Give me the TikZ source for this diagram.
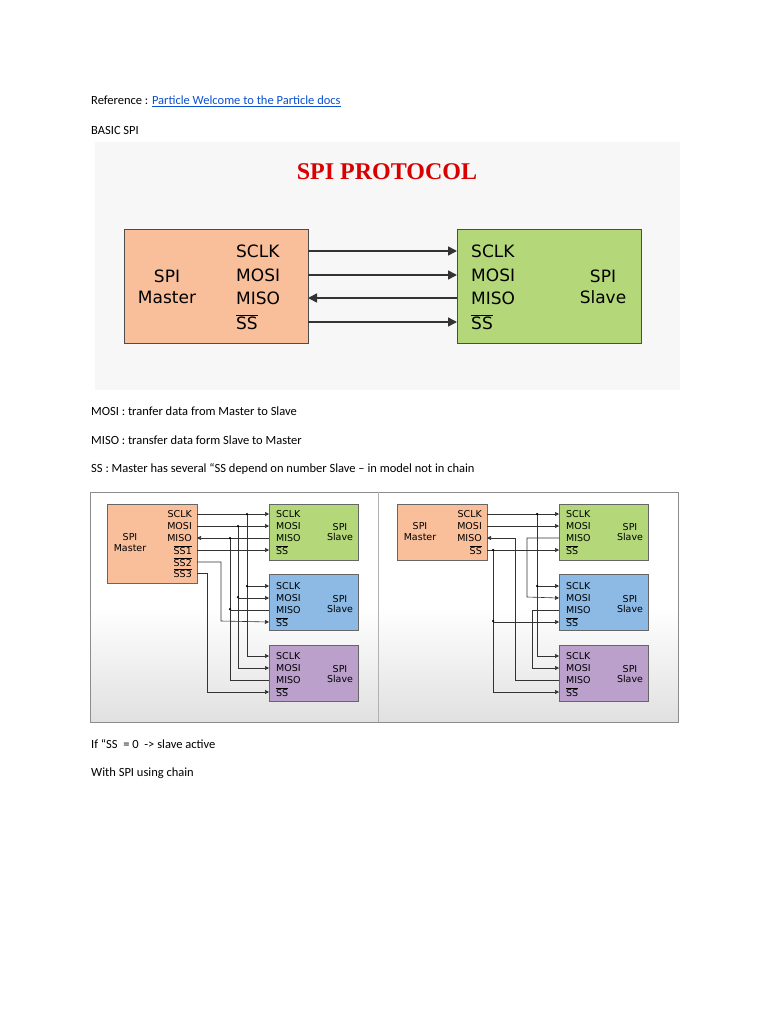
\documentclass[tikz,border=0pt]{standalone}
\usepackage{fontspec}
\setmainfont{Carlito}
\newfontfamily\dv{DejaVu Sans}
\newfontfamily\ser{Liberation Serif}
\usetikzlibrary{arrows.meta}
\newcommand\ovl[1]{$\overline{\hbox{#1}}$}
\definecolor{peach}{HTML}{F9BF9B}
\definecolor{lgreen}{HTML}{B4D77A}
\definecolor{lblue}{HTML}{8CBAE4}
\definecolor{lpurp}{HTML}{BBA0CC}
\definecolor{link}{HTML}{0B50D0}
\begin{document}
\begin{tikzpicture}[x=1pt,y=-1pt,
  txt/.style={anchor=west,inner sep=0pt,font=\fontsize{12.5}{14}\selectfont},
  big/.style={draw=black!70,line width=1pt,inner sep=0pt,anchor=north west},
  bl/.style={font=\dv\fontsize{17}{19}\selectfont,inner sep=0pt,anchor=west},
  sl/.style={font=\dv\fontsize{9.5}{10}\selectfont,inner sep=0pt,anchor=west},
  bw/.style={line width=1.6pt,black!80},
  sw/.style={line width=0.6pt,black!80},
  tip/.style={-{Triangle[length=4pt,width=4pt]}},
  btip/.style={-{Triangle[length=9pt,width=9pt]}},
  dot/.style={circle,fill=black,inner sep=0pt,minimum size=2.5pt}]
\useasboundingbox (0,0) rectangle (768,1024);
\fill[white] (0,0) rectangle (768,1024);
% texts
\node[txt] (r) at (91,101) {Reference : \textcolor{link}{\underbar{Particle Welcome to the Particle docs}}};
\node[txt] (b) at (91,130) {BASIC SPI};
\node[txt] (t1) at (91,411) {MOSI : tranfer data from Master to Slave};
\node[txt] (t2) at (91,440) {MISO : transfer data form Slave to Master};
\node[txt] (t3) at (91,469) {SS : Master has several “SS depend on number Slave – in model not in chain};
\node[txt] (t4) at (91,744) {If “SS \ = 0 \ -> slave active};
\node[txt] (t5) at (91,773) {With SPI using chain};
% top diagram
\fill[black!3] (95,142) rectangle (680,390);
\node[font=\ser\bfseries\fontsize{24}{26}\selectfont,text=red!85!black] (title) at (387,172) {SPI PROTOCOL};
\node[big,fill=peach,minimum width=184,minimum height=114] (M) at (124,229) {};
\node[big,fill=lgreen,minimum width=184,minimum height=114] (S) at (457,229) {};
\node[font=\dv\fontsize{17}{21}\selectfont,align=center] (ml) at (167,287) {SPI\\Master};
\node[font=\dv\fontsize{17}{21}\selectfont,align=center] (sl2) at (603,287) {SPI\\Slave};
\foreach \t/\y [count=\i] in {SCLK/251,MOSI/275,MISO/298,\ovl{SS}/322}{
  \node[bl] (ma\i) at (236,\y) {\t};
  \node[bl] (sa\i) at (471,\y) {\t};
  \coordinate (mp\i) at (308,\y); \coordinate (sp\i) at (457,\y);}
\draw[bw,btip] (mp1) -- (sp1);
\draw[bw,btip] (mp2) -- (sp2);
\draw[bw,btip] (sp3) -- (mp3);
\draw[bw,btip] (mp4) -- (sp4);
% bottom panels
\shade[top color=white,bottom color=black!12,middle color=white] (90,492) rectangle (678,722);
\draw[black!45,line width=0.8pt] (90,492) rectangle (678,722);
\draw[black!30,line width=0.8pt] (378,492) -- (378,722);
\tikzset{
 slv/.style={draw=black!60,inner sep=0pt,anchor=north west,minimum width=89,minimum height=56},
 mst/.style={draw=black!60,fill=peach,inner sep=0pt,anchor=north west,minimum width=90}}
\foreach \ox/\p in {0/L,290/R}{
 \begin{scope}[xshift=\ox]
 \node[slv,fill=lgreen] (\p s1) at (269,504) {};
 \node[slv,fill=lblue] (\p s2) at (269,574) {};
 \node[slv,fill=lpurp] (\p s3) at (269,645) {};
 \foreach \k/\yy in {1/514,2/586,3/656}{
  \foreach \t/\d [count=\i] in {SCLK/0,MOSI/12,MISO/24,\ovl{SS}/36}{
   \node[sl] (\p n\k\i) at (276,\yy+\d) {\t};
   \coordinate (\p c\k\i) at (269,\yy+\d);}
  \node[sl,align=center,anchor=center] (\p sl\k) at (340,\yy+18) {SPI\\Slave};}
 \end{scope}}
% left master
\node[mst,minimum height=79] (LM) at (107,504) {};
\node[font=\dv\fontsize{9.5}{11}\selectfont,align=center] (LMl) at (130,543) {SPI\\Master};
\foreach \t/\y [count=\i] in {SCLK/514,MOSI/526,MISO/538,\ovl{SS1}/550,\ovl{SS2}/562,\ovl{SS3}/573}{
 \node[sl,anchor=east] (Lm\i) at (192,\y) {\t};
 \coordinate (Lq\i) at (197,\y);}
\draw[sw,tip] (Lq1) -- (Lc11);
\draw[sw,tip] (Lq2) -- (Lc12);
\draw[sw,tip] (Lc13) -- (Lq3);
\draw[sw,tip] (Lq4) -- (Lc14);
\draw[sw,tip] (247,514) |- (Lc21); \draw[sw,tip] (247,514) |- (Lc31);
\draw[sw,tip] (238,526) |- (Lc22); \draw[sw,tip] (238,526) |- (Lc32);
\draw[sw] (230,538) |- (Lc23); \draw[sw] (230,538) |- (Lc33);
\draw[sw,tip] (Lq5) -| (221,621) -- (Lc24);
\draw[sw,tip] (Lq6) -| (207,692) -- (Lc34);
\foreach \pt in {(247,514),(238,526),(230,538),(247,586),(238,597),(230,609)} \node[dot] at \pt {};
% right master
\node[mst,minimum height=56] (RM) at (397,504) {};
\node[font=\dv\fontsize{9.5}{11}\selectfont,align=center] (RMl) at (420,532) {SPI\\Master};
\foreach \t/\y [count=\i] in {SCLK/514,MOSI/526,MISO/538,\ovl{SS}/550}{
 \node[sl,anchor=east] (Rm\i) at (482,\y) {\t};
 \coordinate (Rq\i) at (487,\y);}
\draw[sw,tip] (Rq1) -- (Rc11);
\draw[sw,tip] (Rq2) -- (Rc12);
\draw[sw,tip] (Rq4) -- (Rc14);
\draw[sw,tip] (537,514) |- (Rc21); \draw[sw,tip] (537,514) |- (Rc31);
\draw[sw,tip] (493,550) |- (Rc24); \draw[sw,tip] (493,550) |- (Rc34);
\draw[sw,tip] (Rc13) -| (527,597) -- (Rc22);
\draw[sw,tip] (Rc23) -| (532,668) -- (Rc32);
\draw[sw,tip] (Rc33) -| (515,538) -- (Rq3);
\foreach \pt in {(537,514),(493,550),(537,586),(493,621)} \node[dot] at \pt {};
\end{tikzpicture}
\end{document}
